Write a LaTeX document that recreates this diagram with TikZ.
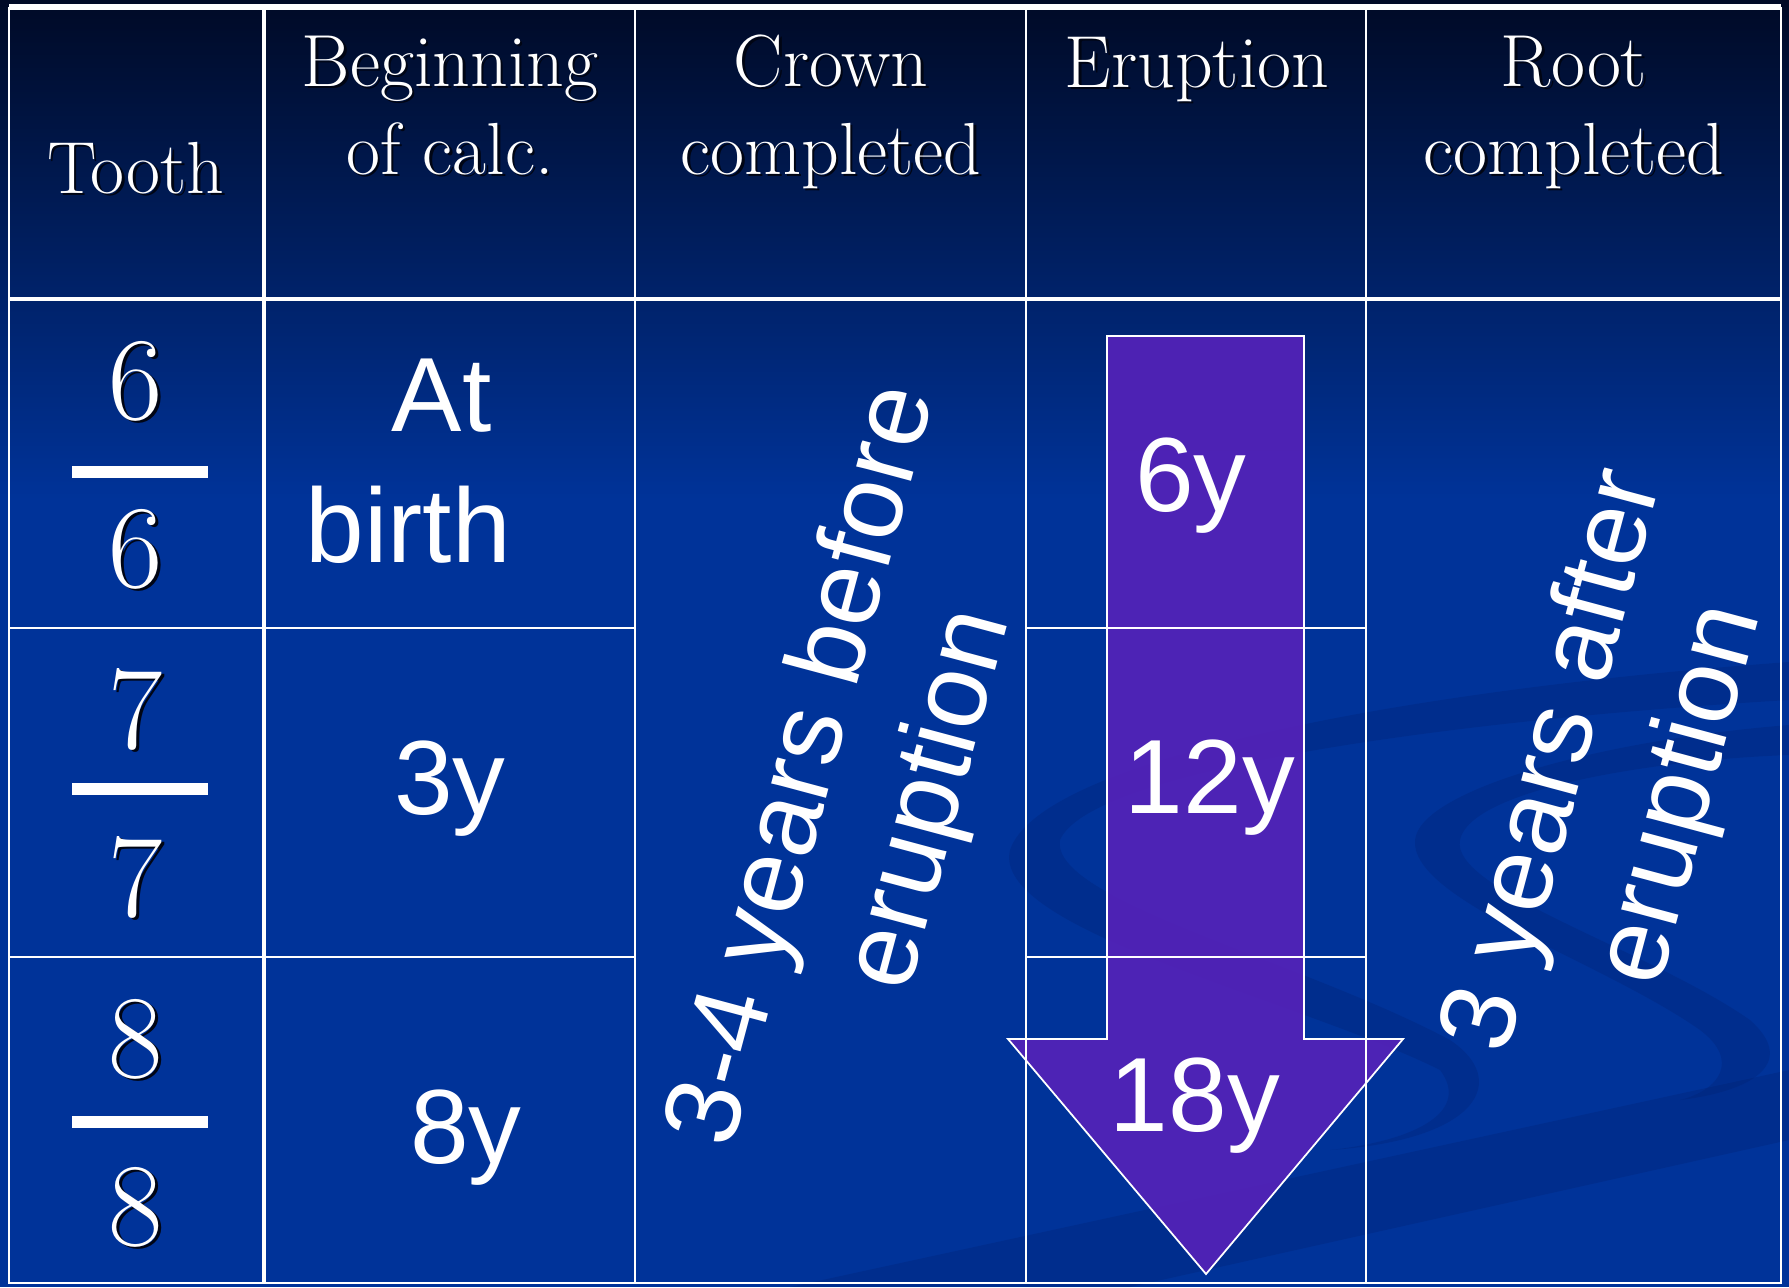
\documentclass[tikz,border=0pt]{standalone}
\usepackage{fontspec}
\newfontfamily\arialfont{Liberation Sans}
\usetikzlibrary{calc}
\definecolor{bgtop}{HTML}{000A26}
\definecolor{bgblue}{HTML}{003399}
\definecolor{arrowfill}{HTML}{5322B8}
\definecolor{swirl}{HTML}{001C66}
\definecolor{shade}{HTML}{000514}
\newcommand\shtxt[1]{\makebox[0pt][l]{\hspace*{0.025cm}\raisebox{-0.025cm}{\textcolor{shade}{#1}}}#1}
\tikzset{
  grid/.style={draw=white, line width=0.7pt},
  gridb/.style={draw=white, line width=1.3pt},
  gridtop/.style={draw=white, line width=1.7pt},
  head/.style={text=white, font=\fontsize{21pt}{25pt}\selectfont, align=center, anchor=base, inner sep=0pt},
  tnum/.style={text=white, font=\fontsize{33.6pt}{40pt}\selectfont, anchor=base, inner sep=0pt},
  bar/.style={draw=white, line width=3.4pt},
  cell/.style={text=white, font=\arialfont\fontsize{30pt}{37pt}\selectfont, anchor=base, inner sep=0pt},
  turned/.style={cell, font=\arialfont\fontsize{30.5pt}{37pt}\selectfont, anchor=center, align=center, rotate=75},
  downarrow/.style={fill=arrowfill, fill opacity=0.93, draw=white, line width=0.5pt, line join=miter},
  swirlband/.style={fill=swirl, opacity=0.22},
}

\begin{document}
\begin{tikzpicture}[x=0.01cm, y=-0.01cm]
  \useasboundingbox (0,0) rectangle (1789,1287);
  % slide background
  \shade[top color=bgtop, bottom color=bgblue] (0,0) rectangle (1789,500);
  \fill[bgblue] (0,499) rectangle (1789,1287);
  \fill[swirlband] (790,1287) -- (1789,1070) -- (1789,1140) -- (1130,1287) -- cycle;
  \fill[swirlband] (1789,662) .. controls (1400,690) and (1040,760) .. (1010,850)
    .. controls (990,930) and (1300,1000) .. (1440,1070)
    .. controls (1470,1110) and (1420,1140) .. (1330,1150)
    .. controls (1480,1140) and (1510,1080) .. (1450,1040)
    .. controls (1300,960) and (1050,900) .. (1060,840)
    .. controls (1090,770) and (1450,720) .. (1789,700) -- cycle;
  \fill[swirlband] (1789,725) .. controls (1600,740) and (1420,790) .. (1415,840)
    .. controls (1410,900) and (1600,960) .. (1700,1030)
    .. controls (1740,1060) and (1720,1090) .. (1680,1100)
    .. controls (1760,1090) and (1795,1060) .. (1750,1020)
    .. controls (1650,950) and (1450,890) .. (1460,840)
    .. controls (1470,790) and (1650,760) .. (1789,755) -- cycle;

  % eruption arrow
  \draw[downarrow] (1107,336) -- (1304,336) -- (1304,1039) -- (1403,1039)
    -- (1206,1274) -- (1008,1039) -- (1107,1039) -- cycle;

  % table rules
  \draw[gridtop] (9,7) -- (1781,7);
  \draw[grid] (9,7) -- (9,1283) -- (1781,1283) -- (1781,7);
  \draw[gridb] (9,299) -- (1781,299);
  \draw[gridb] (264,7) -- (264,1283);
  \foreach \cx in {635,1026,1366}
    \draw[grid] (\cx,7) -- (\cx,1283);
  \foreach \ry in {628,957} {
    \draw[grid] (9,\ry) -- (635,\ry);
    \draw[grid] (1026,\ry) -- (1366,\ry);
  }

  % header row
  \node[head] (tooth) at (136,193) {\shtxt{Tooth}};
  \node[head] (calc) at (450,174) {\shtxt{Beginning}\\\shtxt{of calc.}};
  \node[head] (crown) at (831,174) {\shtxt{Crown}\\\shtxt{completed}};
  \node[head] (erupt) at (1197,87) {\shtxt{Eruption}};
  \node[head] (root) at (1574,174) {\shtxt{Root}\\\shtxt{completed}};

  % tooth column
  \foreach \d/\ya/\yb/\yc [count=\i] in {6/419/472/587, 7/748/789/916, 8/1077/1122/1245} {
    \node[tnum] (up\i) at (136,\ya) {\shtxt{\d}};
    \draw[bar] (72,\yb) -- (208,\yb);
    \node[tnum] (lo\i) at (136,\yc) {\shtxt{\d}};
  }

  % beginning of calcification
  \node[cell, align=left, anchor=base west] (birth) at (305,562) {\hspace*{0.86cm}At\\birth};
  \node[cell] (calc7) at (450,814) {3y};
  \node[cell] (calc8) at (466,1163) {8y};

  % eruption ages
  \node[cell] (er6) at (1191,511) {6y};
  \node[cell] (er7) at (1210,813) {12y};
  \node[cell] (er8) at (1195,1131) {18y};

  % merged columns
  \node[turned] (crownall) at (869,783) {3-4 years before\\eruption};
  \node[turned] (rootall) at (1620,778) {3 years after\\eruption};
\end{tikzpicture}
\end{document}
